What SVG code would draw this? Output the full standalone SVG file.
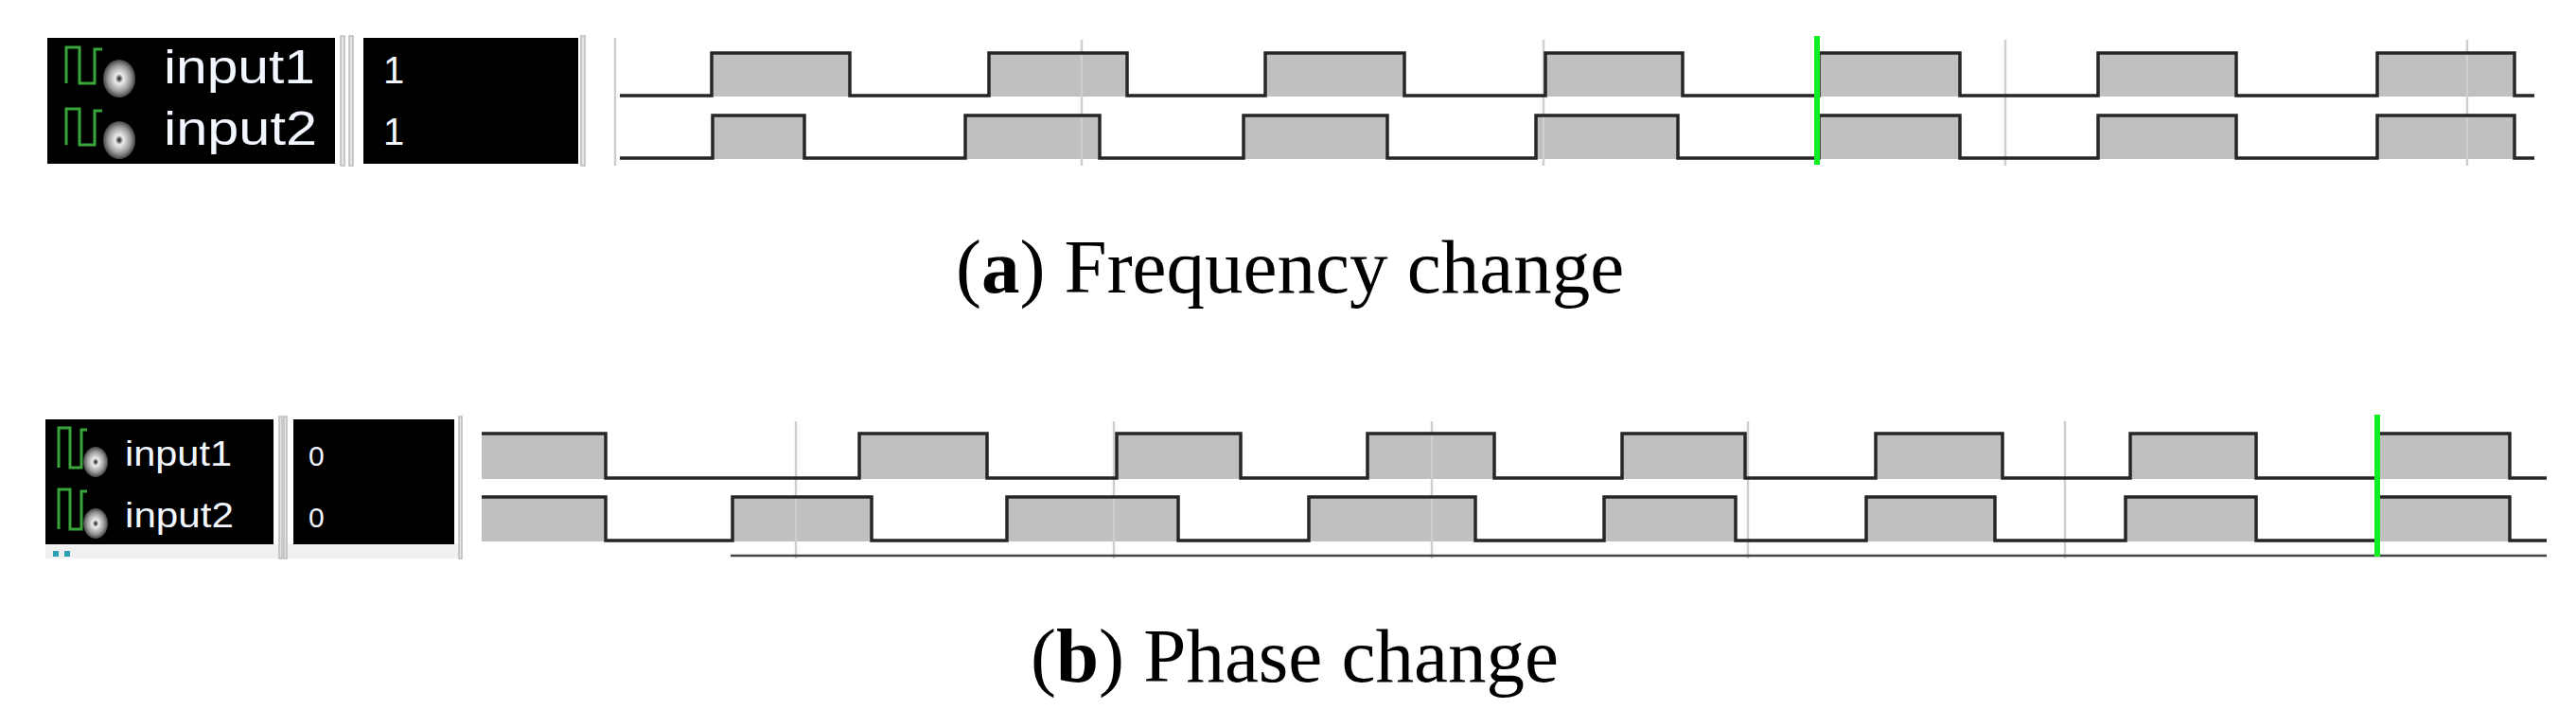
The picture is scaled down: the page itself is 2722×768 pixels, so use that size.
<svg xmlns="http://www.w3.org/2000/svg" width="2722" height="768" viewBox="0 0 2722 768">
<style>
.fill{fill:#c0c0c0}
.wave{fill:none;stroke:#262626;stroke-width:3.5;stroke-linejoin:miter}
.grid{stroke:#cfcfcf;stroke-width:2.5}
.cursor{stroke:#11ee22;stroke-width:6}
.panel{fill:#000}
.sep{fill:#e6e6e6;stroke:#bbb;stroke-width:1.5}
.name{fill:#f2f6ff;font-family:"Liberation Sans",Arial,sans-serif}
.icon{fill:none;stroke:#3aa53a;stroke-width:3}
.cap{font-family:"Liberation Serif","Times New Roman",serif;font-size:81px;fill:#000}
</style>
<defs>
<radialGradient id="knob"><stop offset="0" stop-color="#111"/><stop offset="0.25" stop-color="#eee"/><stop offset="0.7" stop-color="#999"/><stop offset="1" stop-color="#444"/></radialGradient>
</defs>
<rect width="2722" height="768" fill="#fff"/>

<g id="panel-a">
<rect class="panel" x="50" y="40" width="304" height="133"/>
<rect class="sep" x="360" y="38" width="4" height="137"/><rect class="sep" x="369" y="38" width="4" height="137"/>
<rect class="panel" x="384" y="40" width="227" height="133"/>
<rect class="sep" x="614" y="38" width="4" height="137"/>
<path class="icon" d="M70,88 V50 H84 V88 H100 V52 H108"/>
<ellipse cx="126" cy="83" rx="17" ry="20" fill="url(#knob)"/>
<path class="icon" d="M70,153 V115 H84 V153 H100 V117 H108"/>
<ellipse cx="126" cy="148" rx="17" ry="20" fill="url(#knob)"/>
<text class="name" x="173" y="88" font-size="50" textLength="160" lengthAdjust="spacingAndGlyphs">input1</text>
<text class="name" x="173" y="153" font-size="50" textLength="162" lengthAdjust="spacingAndGlyphs">input2</text>
<text class="name" x="405" y="88" font-size="40">1</text>
<text class="name" x="405" y="153" font-size="40">1</text>
</g>

<g id="waves-a">
<g class="fill">
<rect x="752" y="56" width="146" height="46"/><rect x="1045" y="56" width="146" height="46"/><rect x="1337" y="56" width="147" height="46"/><rect x="1633" y="56" width="145" height="46"/><rect x="1922" y="56" width="149" height="46"/><rect x="2217" y="56" width="146" height="46"/><rect x="2512" y="56" width="145" height="46"/>
<rect x="753" y="122" width="97" height="46"/><rect x="1020" y="122" width="142" height="46"/><rect x="1314" y="122" width="152" height="46"/><rect x="1623" y="122" width="150" height="46"/><rect x="1922" y="122" width="149" height="46"/><rect x="2217" y="122" width="146" height="46"/><rect x="2512" y="122" width="145" height="46"/>
</g>
<line class="grid" x1="650" y1="40" x2="650" y2="175"/>
<line class="grid" x1="1143" y1="42" x2="1143" y2="175"/><line class="grid" x1="1631" y1="42" x2="1631" y2="175"/><line class="grid" x1="2119" y1="42" x2="2119" y2="175"/><line class="grid" x1="2607" y1="42" x2="2607" y2="175"/>
<path class="wave" d="M655,101 H752 V56 H898 V101 H1045 V56 H1191 V101 H1337 V56 H1484 V101 H1633 V56 H1778 V101 H1922 V56 H2071 V101 H2217 V56 H2363 V101 H2512 V56 H2657 V101 H2678"/>
<path class="wave" d="M655,167 H753 V122 H850 V167 H1020 V122 H1162 V167 H1314 V122 H1466 V167 H1623 V122 H1773 V167 H1922 V122 H2071 V167 H2217 V122 H2363 V167 H2512 V122 H2657 V167 H2678"/>
<line class="cursor" x1="1920" y1="38" x2="1920" y2="174"/>
</g>
<text class="cap" x="1363" y="309" text-anchor="middle">(<tspan font-weight="bold">a</tspan>) Frequency change</text>

<g id="panel-b">
<rect class="panel" x="48" y="443" width="241" height="132"/>
<rect x="48" y="575" width="438" height="15" fill="#f0f0f0"/>
<rect x="56" y="582" width="6" height="6" fill="#2aa0b0"/><rect x="68" y="582" width="6" height="6" fill="#2aa0b0"/>
<rect class="sep" x="295" y="440" width="3" height="150"/><rect class="sep" x="300" y="440" width="3" height="150"/>
<rect class="panel" x="310" y="443" width="170" height="132"/>
<rect class="sep" x="485" y="440" width="3" height="150"/>
<path class="icon" d="M62,494 V452 H74 V494 H86 V454 H92"/>
<ellipse cx="101" cy="488" rx="13" ry="16" fill="url(#knob)"/>
<path class="icon" d="M62,559 V517 H74 V559 H86 V519 H92"/>
<ellipse cx="101" cy="553" rx="13" ry="16" fill="url(#knob)"/>
<text class="name" x="132" y="492" font-size="36" textLength="113" lengthAdjust="spacingAndGlyphs">input1</text>
<text class="name" x="132" y="557" font-size="36" textLength="115" lengthAdjust="spacingAndGlyphs">input2</text>
<text class="name" x="326" y="492" font-size="30">0</text>
<text class="name" x="326" y="557" font-size="30">0</text>
</g>

<g id="waves-b">
<g class="fill">
<rect x="509" y="458" width="131" height="48"/><rect x="908" y="458" width="135" height="48"/><rect x="1180" y="458" width="131" height="48"/><rect x="1445" y="458" width="134" height="48"/><rect x="1714" y="458" width="130" height="48"/><rect x="1982" y="458" width="134" height="48"/><rect x="2251" y="458" width="133" height="48"/><rect x="2512" y="458" width="140" height="48"/>
<rect x="509" y="525" width="131" height="47"/><rect x="774" y="525" width="147" height="47"/><rect x="1064" y="525" width="181" height="47"/><rect x="1383" y="525" width="176" height="47"/><rect x="1695" y="525" width="139" height="47"/><rect x="1972" y="525" width="136" height="47"/><rect x="2246" y="525" width="138" height="47"/><rect x="2512" y="525" width="140" height="47"/>
</g>
<line class="grid" x1="841" y1="445" x2="841" y2="590"/><line class="grid" x1="1177" y1="445" x2="1177" y2="590"/><line class="grid" x1="1513" y1="445" x2="1513" y2="590"/><line class="grid" x1="1847" y1="445" x2="1847" y2="590"/><line class="grid" x1="2182" y1="445" x2="2182" y2="590"/>
<path class="wave" d="M509,458 H640 V505 H908 V458 H1043 V505 H1180 V458 H1311 V505 H1445 V458 H1579 V505 H1714 V458 H1844 V505 H1982 V458 H2116 V505 H2251 V458 H2384 V505 H2512 V458 H2652 V505 H2691"/>
<path class="wave" d="M509,525 H640 V571 H774 V525 H921 V571 H1064 V525 H1245 V571 H1383 V525 H1559 V571 H1695 V525 H1834 V571 H1972 V525 H2108 V571 H2246 V525 H2384 V571 H2512 V525 H2652 V571 H2691"/>
<line x1="772" y1="587" x2="2691" y2="587" stroke="#444" stroke-width="2.5"/>
<line class="cursor" x1="2512" y1="438" x2="2512" y2="588"/>
</g>
<text class="cap" x="1368" y="720" text-anchor="middle">(<tspan font-weight="bold">b</tspan>) Phase change</text>
</svg>
